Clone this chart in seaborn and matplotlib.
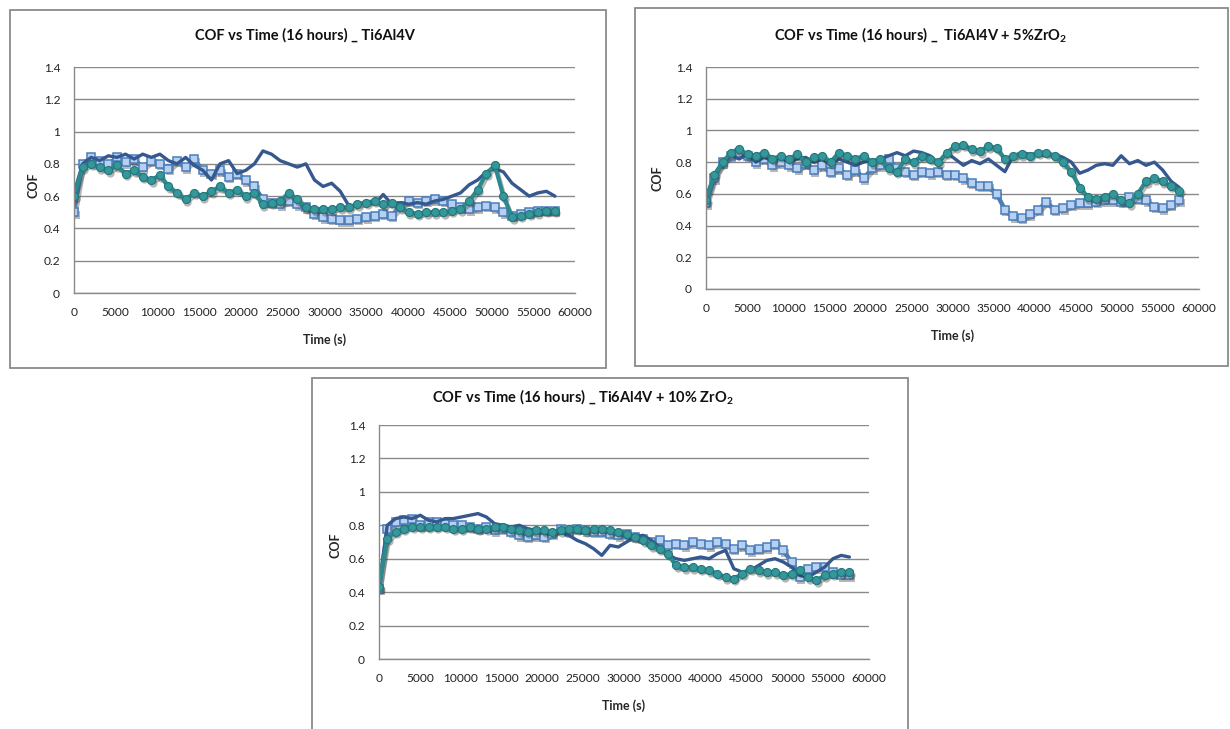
import numpy as np
import pandas as pd
import matplotlib
matplotlib.use("Agg")
import matplotlib.pyplot as plt
from matplotlib.patches import Rectangle
from matplotlib.transforms import offset_copy
import seaborn as sns

# ---------------------------------------------------------------------------
# Data: COF, roughly one value every 1000 s
# (each series spans 0 .. 57600 s = 16 h)
# ---------------------------------------------------------------------------
# Ti6Al4V
a_line = [0.62, 0.80, 0.84, 0.82, 0.85, 0.84, 0.86, 0.83, 0.86, 0.84,
          0.86, 0.82, 0.80, 0.84, 0.79, 0.76, 0.70, 0.80, 0.82, 0.74,
          0.76, 0.80, 0.88, 0.86, 0.82, 0.80, 0.78, 0.80, 0.70, 0.66,
          0.68, 0.63, 0.54, 0.54, 0.57, 0.55, 0.61, 0.55, 0.56, 0.55,
          0.56, 0.55, 0.57, 0.58, 0.60, 0.62, 0.67, 0.70, 0.75, 0.77,
          0.75, 0.68, 0.64, 0.60, 0.62, 0.63, 0.60]
a_square = [0.50, 0.80, 0.84, 0.82, 0.80, 0.84, 0.81, 0.83, 0.78, 0.82,
            0.80, 0.77, 0.82, 0.78, 0.83, 0.76, 0.74, 0.76, 0.72, 0.74,
            0.70, 0.66, 0.58, 0.56, 0.55, 0.57, 0.55, 0.53, 0.49, 0.47,
            0.46, 0.45, 0.45, 0.46, 0.47, 0.48, 0.49, 0.48, 0.54, 0.57,
            0.56, 0.57, 0.58, 0.57, 0.55, 0.53, 0.52, 0.53, 0.54, 0.53,
            0.50, 0.48, 0.49, 0.50, 0.51, 0.51, 0.51]
a_circle = [0.60, 0.78, 0.80, 0.78, 0.76, 0.79, 0.74, 0.76, 0.72, 0.70,
            0.73, 0.66, 0.62, 0.58, 0.62, 0.60, 0.63, 0.66, 0.62, 0.64,
            0.60, 0.62, 0.55, 0.56, 0.57, 0.62, 0.58, 0.53, 0.52, 0.52,
            0.52, 0.53, 0.53, 0.55, 0.56, 0.57, 0.55, 0.56, 0.53, 0.50,
            0.49, 0.50, 0.50, 0.50, 0.51, 0.52, 0.57, 0.64, 0.74, 0.79,
            0.60, 0.47, 0.48, 0.49, 0.50, 0.51, 0.51]

# Ti6Al4V + 5% ZrO2
b_line = [0.58, 0.72, 0.80, 0.84, 0.82, 0.85, 0.80, 0.83, 0.81, 0.83,
          0.80, 0.82, 0.83, 0.80, 0.82, 0.78, 0.82, 0.80, 0.78, 0.80,
          0.81, 0.82, 0.84, 0.86, 0.84, 0.87, 0.86, 0.84, 0.79, 0.86,
          0.82, 0.78, 0.81, 0.79, 0.82, 0.78, 0.74, 0.84, 0.86, 0.85,
          0.85, 0.84, 0.85, 0.83, 0.80, 0.73, 0.75, 0.78, 0.79, 0.78,
          0.84, 0.79, 0.81, 0.78, 0.80, 0.75, 0.68, 0.64]
b_square = [0.54, 0.70, 0.80, 0.84, 0.86, 0.84, 0.80, 0.82, 0.78, 0.80,
            0.78, 0.76, 0.79, 0.75, 0.78, 0.74, 0.76, 0.72, 0.75, 0.70,
            0.76, 0.78, 0.82, 0.76, 0.74, 0.72, 0.74, 0.73, 0.74, 0.72,
            0.72, 0.70, 0.67, 0.65, 0.65, 0.60, 0.50, 0.46, 0.45, 0.47,
            0.50, 0.55, 0.50, 0.51, 0.53, 0.54, 0.54, 0.55, 0.56, 0.56,
            0.55, 0.58, 0.57, 0.56, 0.52, 0.51, 0.53, 0.56]
b_circle = [0.56, 0.72, 0.80, 0.86, 0.88, 0.85, 0.84, 0.86, 0.82, 0.84,
            0.82, 0.85, 0.80, 0.83, 0.84, 0.80, 0.86, 0.84, 0.82, 0.84,
            0.80, 0.82, 0.76, 0.74, 0.82, 0.80, 0.84, 0.82, 0.80, 0.86,
            0.90, 0.91, 0.88, 0.87, 0.90, 0.89, 0.82, 0.84, 0.85, 0.84,
            0.86, 0.86, 0.84, 0.80, 0.74, 0.64, 0.58, 0.57, 0.58, 0.60,
            0.56, 0.54, 0.60, 0.68, 0.70, 0.68, 0.65, 0.62]

# Ti6Al4V + 10% ZrO2
c_line = [0.42, 0.80, 0.84, 0.85, 0.84, 0.86, 0.83, 0.82, 0.84, 0.84,
          0.85, 0.86, 0.87, 0.85, 0.81, 0.80, 0.79, 0.80, 0.78, 0.77,
          0.75, 0.75, 0.76, 0.74, 0.71, 0.69, 0.66, 0.62, 0.68, 0.67,
          0.70, 0.73, 0.74, 0.71, 0.67, 0.62, 0.60, 0.59, 0.60, 0.61,
          0.60, 0.63, 0.65, 0.54, 0.52, 0.53, 0.56, 0.59, 0.60, 0.58,
          0.55, 0.50, 0.49, 0.52, 0.55, 0.60, 0.62, 0.61]
c_square = [0.42, 0.78, 0.82, 0.83, 0.84, 0.80, 0.82, 0.82, 0.81, 0.80,
            0.80, 0.79, 0.78, 0.79, 0.77, 0.78, 0.76, 0.74, 0.73, 0.74,
            0.73, 0.75, 0.78, 0.76, 0.78, 0.77, 0.76, 0.76, 0.75, 0.74,
            0.75, 0.73, 0.72, 0.70, 0.71, 0.68, 0.69, 0.68, 0.70, 0.69,
            0.68, 0.70, 0.69, 0.66, 0.68, 0.65, 0.66, 0.67, 0.69, 0.65,
            0.58, 0.49, 0.54, 0.55, 0.55, 0.52, 0.50, 0.50]
c_circle = [0.43, 0.72, 0.76, 0.78, 0.79, 0.79, 0.79, 0.79, 0.79, 0.78,
            0.78, 0.79, 0.78, 0.78, 0.79, 0.79, 0.78, 0.77, 0.76, 0.77,
            0.77, 0.76, 0.77, 0.78, 0.78, 0.77, 0.78, 0.78, 0.77, 0.76,
            0.75, 0.73, 0.71, 0.68, 0.66, 0.63, 0.56, 0.55, 0.55, 0.54,
            0.53, 0.51, 0.49, 0.48, 0.51, 0.54, 0.53, 0.52, 0.52, 0.50,
            0.51, 0.53, 0.49, 0.47, 0.50, 0.51, 0.52, 0.52]

END_TIME = 57600
x_ticks = list(range(0, 60001, 5000))
y_ticks = [0, 0.2, 0.4, 0.6, 0.8, 1.0, 1.2, 1.4]
y_tick_labels = ["0", "0.2", "0.4", "0.6", "0.8", "1", "1.2", "1.4"]

titles = [
    "COF vs Time (16 hours) _ Ti6Al4V",
    r"COF vs Time (16 hours) _  Ti6Al4V + 5%ZrO$_\mathbf{2}$",
    r"COF vs Time (16 hours) _ Ti6Al4V + 10% ZrO$_\mathbf{2}$",
]

# ---------------------------------------------------------------------------
# Style
# ---------------------------------------------------------------------------
sns.set_style("white")
plt.rcParams["font.family"] = ["Lato", "DejaVu Sans"]
plt.rcParams["mathtext.fontset"] = "custom"
plt.rcParams["mathtext.rm"] = "Lato"
plt.rcParams["mathtext.bf"] = "Lato:bold"

GRAY = "#8a8a8a"
LINE_C = "#35598f"
SQ_C = "#4a7ebb"
CIR_C = "#2b8a8e"

W, H = 1230, 729
fig = plt.figure(figsize=(W / 100, H / 100), dpi=100)
fig.patch.set_facecolor("white")


def px_box(left, top, right, bottom):
    return [left / W, 1 - bottom / H, (right - left) / W, (bottom - top) / H]


# layout in pixels: axes box, outer frame, title centre, COF label centre
layout = [
    dict(ax=(74, 67, 575, 293), frame=(10, 10, 606, 368), title=(305, 35), ylab=(40, 185)),
    dict(ax=(706, 67, 1199, 289), frame=(635, 8, 1228, 366), title=(921, 35), ylab=(664, 178)),
    dict(ax=(379, 425, 869, 659), frame=(312, 378, 908, 760), title=(583, 397), ylab=(342, 545)),
]
panel_data = [
    (a_line, a_square, a_circle),
    (b_line, b_square, b_circle),
    (c_line, c_square, c_circle),
]


def draw_series(ax, vals, **kw):
    df = pd.DataFrame({"Time (s)": np.linspace(0, END_TIME, len(vals)), "COF": vals})
    sns.lineplot(data=df, x="Time (s)", y="COF", ax=ax, sort=False,
                 estimator=None, legend=False, **kw)
    return ax.lines[-1]


def add_shadow(ax, vals, **kw):
    ln = draw_series(ax, vals, **kw)
    ln.set_transform(offset_copy(ax.transData, fig=fig, x=1.5, y=-2.5, units="dots"))


for lay, (s_line, s_square, s_circle), title in zip(layout, panel_data, titles):
    fx0, fy0, fx1, fy1 = lay["frame"]
    fig.add_artist(Rectangle((fx0 / W, 1 - fy1 / H), (fx1 - fx0) / W, (fy1 - fy0) / H,
                             transform=fig.transFigure, fill=False,
                             edgecolor=GRAY, linewidth=1.3))

    ax = fig.add_axes(px_box(*lay["ax"]))

    # squares (with drop shadow)
    add_shadow(ax, s_square, color="#333333", alpha=0.35, linewidth=3.2,
               marker="s", markersize=5.5, markeredgewidth=0)
    draw_series(ax, s_square, color=SQ_C, linewidth=3.0, marker="s", markersize=5.2,
                markerfacecolor="#b7cff0", markeredgecolor=SQ_C, markeredgewidth=1.1)
    # dark line
    draw_series(ax, s_line, color=LINE_C, linewidth=2.4)
    # teal circles (with drop shadow)
    add_shadow(ax, s_circle, color="#333333", alpha=0.35, linewidth=3.2,
               marker="o", markersize=6, markeredgewidth=0)
    draw_series(ax, s_circle, color=CIR_C, linewidth=3.0, marker="o", markersize=5.8,
                markerfacecolor="#33979b", markeredgecolor="#23777a", markeredgewidth=0.8)

    ax.set_xlim(0, 60000)
    ax.set_ylim(0, 1.4)
    ax.set_xticks(x_ticks)
    ax.set_xticklabels([str(t) for t in x_ticks])
    ax.set_yticks(y_ticks)
    ax.set_yticklabels(y_tick_labels)
    ax.grid(axis="y", color=GRAY, linewidth=1.0)
    ax.grid(axis="x", visible=False)
    ax.set_axisbelow(True)
    for side in ["top", "right"]:
        ax.spines[side].set_visible(False)
    for side in ["left", "bottom"]:
        ax.spines[side].set_color(GRAY)
        ax.spines[side].set_linewidth(1.0)
    ax.tick_params(direction="out", length=4, width=1, color=GRAY,
                   labelsize=8.6, labelcolor="#222222", pad=6)

    ax.set_xlabel("Time (s)", fontsize=9, fontweight="bold", labelpad=11)
    ax.set_ylabel("COF", fontsize=9, fontweight="bold")
    x0, y0, x1, y1 = lay["ax"]
    lx, ly = lay["ylab"]
    ax.yaxis.set_label_coords((lx - x0) / (x1 - x0), (y1 - ly) / (y1 - y0))

    tx, ty = lay["title"]
    fig.text(tx / W, 1 - ty / H, title, ha="center", va="center",
             fontsize=10.5, fontweight="bold", color="#111111")

fig.savefig("out.png", dpi=100, facecolor="white")
